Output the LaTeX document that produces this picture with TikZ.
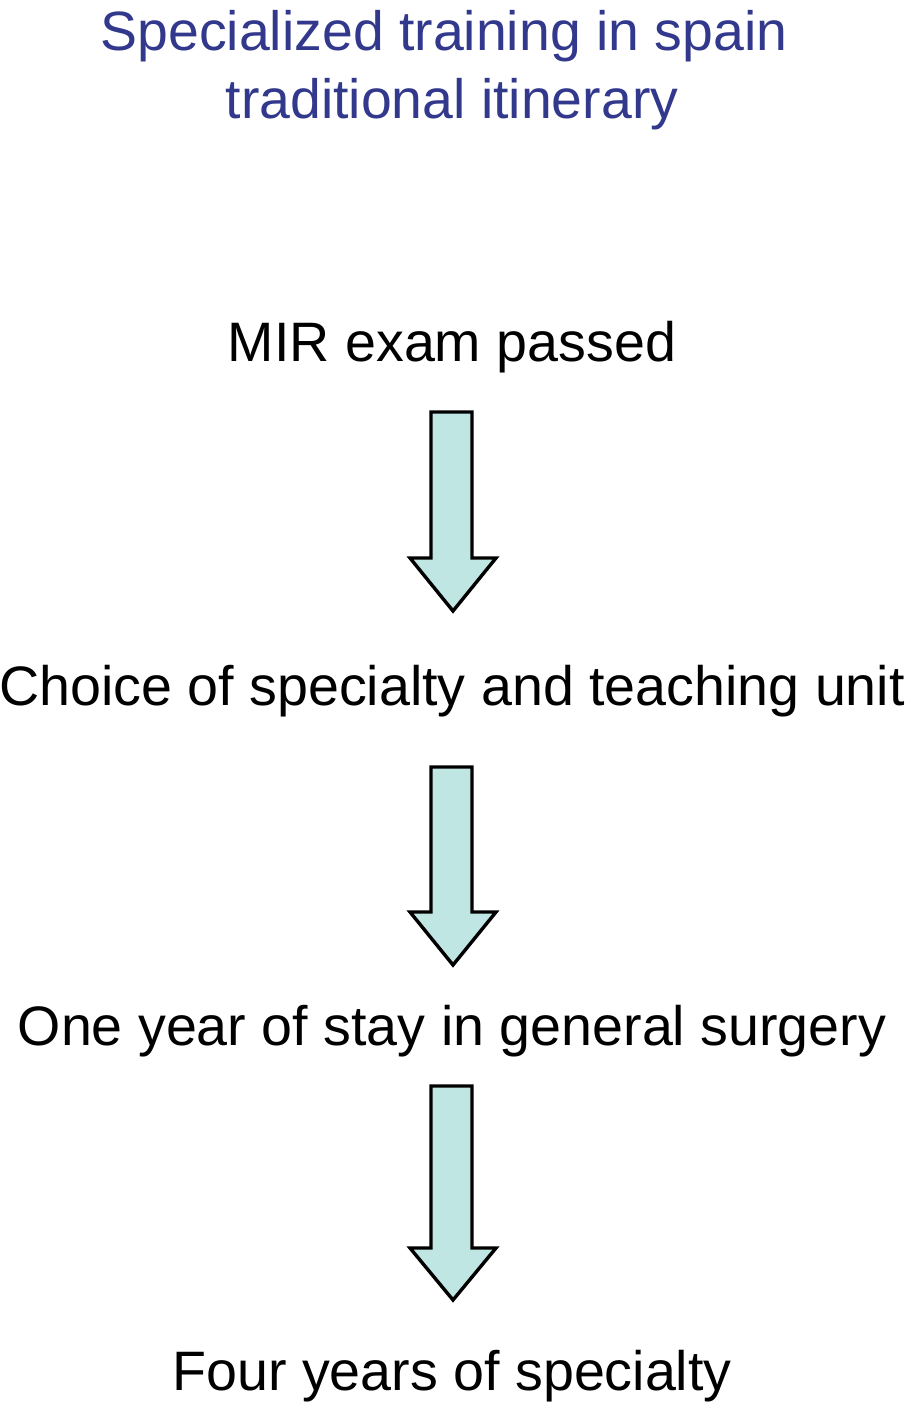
\documentclass[tikz,border=0pt]{standalone}
\usepackage{fontspec}
\setmainfont{Liberation Sans}
\definecolor{titleblue}{RGB}{50,56,140}
\definecolor{arrowfill}{RGB}{192,230,228}
\begin{document}
\begin{tikzpicture}[x=1pt,y=-1pt,
  steptext/.style={anchor=base,inner sep=0pt,font=\fontsize{55.6}{66}\selectfont,text=black},
  titletext/.style={anchor=base,inner sep=0pt,font=\fontsize{55.4}{66}\selectfont,text=titleblue},
  blockarrow/.style={draw=black,fill=arrowfill,line width=3.4pt,line join=miter}]
\useasboundingbox (0,0) rectangle (905,1416);
\node[titletext] (t1) at (444,50) {Specialized training in spain};
\node[titletext] (t2) at (452,118) {traditional itinerary};
\node[steptext] (s1) at (452,361) {MIR exam passed};
\node[steptext] (s2) at (452,705) {Choice of specialty and teaching unit};
\node[steptext] (s3) at (452,1045) {One year of stay in general surgery};
\node[steptext] (s4) at (452,1390) {Four years of specialty};
\foreach \top/\head/\tip in {412/558/611, 767/912/965, 1086/1248/1300}{
  \draw[blockarrow] (431,\top) -- (472,\top) -- (472,\head) -- (496,\head) -- (453,\tip) -- (410,\head) -- (431,\head) -- cycle;
}
\end{tikzpicture}
\end{document}
